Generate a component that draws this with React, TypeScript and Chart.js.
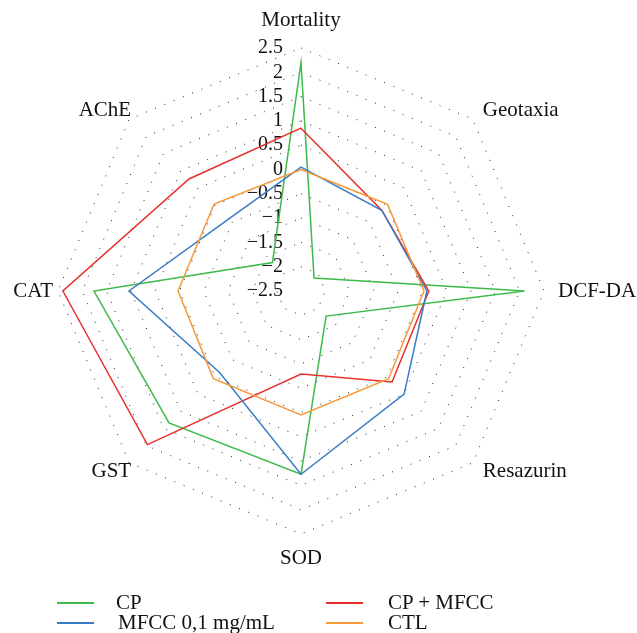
import React, { useEffect, useRef } from 'react';
import { Chart, registerables } from 'chart.js';

Chart.register(...registerables);

const CATEGORIES = ['Mortality', 'Geotaxia', 'DCF-DA', 'Resazurin', 'SOD', 'GST', 'CAT', 'AChE'];
const CP = [2.2, -2.12, 2.1, -1.77, 1.27, 1.34, 1.76, -1.67];
const MFCC = [0.05, -0.15, 0.09, 0.5, 1.27, -0.13, 1.04, -0.4];
const CP_MFCC = [0.85, -0.15, 0.13, 0.15, -0.79, 1.97, 2.4, 0.76];
const CTL = [0, 0.02, 0.03, 0.05, 0.05, 0.05, 0.03, 0.03];
const TICKS = [-2.5, -2, -1.5, -1, -0.5, 0, 0.5, 1, 1.5, 2, 2.5];
const SERIES_NAMES = ['CP', 'MFCC 0,1 mg/mL', 'CP + MFCC', 'CTL'];

const GREEN = '#3dba4a';
const BLUE = '#3a7cc2';
const RED = '#e8302a';
const ORANGE = '#f8993b';

const FONT = "'Liberation Serif', 'Times New Roman', serif";

const fmt = (v: number) => (v < 0 ? '\u2212' + String(Math.abs(v)) : String(v));

const labelPlugin = {
  id: 'customRadarLabels',
  beforeDatasetsDraw(chart: any) {
    const scale = chart.scales.r;
    const ctx = chart.ctx;
    ctx.save();
    ctx.font = `20px ${FONT}`;
    ctx.fillStyle = '#111';
    ctx.textAlign = 'right';
    ctx.textBaseline = 'middle';
    TICKS.forEach((t) => {
      const d = scale.getDistanceFromCenterForValue(t);
      ctx.fillText(fmt(t), scale.xCenter - 18, scale.yCenter - d);
    });
    ctx.restore();
  },
  afterDraw(chart: any) {
    const scale = chart.scales.r;
    const ctx = chart.ctx;
    const R = scale.drawingArea;
    ctx.save();
    ctx.font = `21px ${FONT}`;
    ctx.fillStyle = '#111';
    ctx.textBaseline = 'middle';
    CATEGORIES.forEach((lab, i) => {
      const p = scale.getPointPosition(i, R);
      const cx = p.x - scale.xCenter;
      const cy = p.y - scale.yCenter;
      let x = p.x;
      let y = p.y;
      if (Math.abs(cx) < 1) {
        ctx.textAlign = 'center';
        y = cy < 0 ? p.y - 28 : p.y + 24;
      } else if (Math.abs(cy) < 1) {
        if (cx > 0) { ctx.textAlign = 'left'; x = p.x + 14; }
        else { ctx.textAlign = 'right'; x = p.x - 5; }
      } else {
        if (cx > 0) { ctx.textAlign = 'left'; x = p.x + 10; }
        else { ctx.textAlign = 'right'; x = p.x + 2; }
        y = cy < 0 ? p.y - 9 : p.y + 9;
      }
      ctx.fillText(lab, x, y);
    });
    ctx.restore();
  },
};

export default function App() {
  const ref = useRef<HTMLCanvasElement | null>(null);

  useEffect(() => {
    if (!ref.current) return;
    const mk = (label: string, data: number[], color: string) => ({
      label,
      data,
      borderColor: color,
      backgroundColor: color,
      borderWidth: 1.5,
      fill: false,
      pointRadius: 0,
      pointHoverRadius: 0,
      tension: 0,
    });
    const chart = new Chart(ref.current, {
      type: 'radar',
      data: {
        labels: CATEGORIES,
        datasets: [
          mk(SERIES_NAMES[3], CTL, ORANGE),
          mk(SERIES_NAMES[1], MFCC, BLUE),
          mk(SERIES_NAMES[2], CP_MFCC, RED),
          mk(SERIES_NAMES[0], CP, GREEN),
        ],
      },
      options: {
        animation: false,
        responsive: false,
        maintainAspectRatio: false,
        layout: { padding: { left: 58, right: 93, top: 48, bottom: 99 } },
        plugins: { legend: { display: false }, tooltip: { enabled: false } },
        scales: {
          r: {
            min: -2.5,
            max: 2.5,
            ticks: { display: false, stepSize: 0.5 },
            pointLabels: { display: false },
            angleLines: { display: false },
            grid: { color: '#222', lineWidth: 1 },
            border: { dash: [1, 9] },
          },
        },
      },
      plugins: [labelPlugin],
    } as any);
    return () => chart.destroy();
  }, []);

  const legendItems = [
    { name: SERIES_NAMES[0], color: GREEN, lx: 57, tx: 116, y: 603 },
    { name: SERIES_NAMES[1], color: BLUE, lx: 57, tx: 118, y: 623 },
    { name: SERIES_NAMES[2], color: RED, lx: 326, tx: 388, y: 603 },
    { name: SERIES_NAMES[3], color: ORANGE, lx: 326, tx: 388, y: 623 },
  ];

  return (
    <div style={{ position: 'absolute', left: 0, top: 0, width: 637, height: 633, background: '#fff' }}>
      <canvas ref={ref} width={637} height={633} style={{ position: 'absolute', left: 0, top: 0 }} />
      {legendItems.map((it) => (
        <React.Fragment key={it.name}>
          <div
            style={{
              position: 'absolute',
              left: it.lx,
              top: it.y - 1,
              width: 37,
              height: 2,
              background: it.color,
            }}
          />
          <div
            style={{
              position: 'absolute',
              left: it.tx,
              top: it.y - 13,
              height: 24,
              lineHeight: '24px',
              fontFamily: FONT,
              fontSize: 21,
              color: '#111',
              whiteSpace: 'nowrap',
            }}
          >
            {it.name}
          </div>
        </React.Fragment>
      ))}
    </div>
  );
}
